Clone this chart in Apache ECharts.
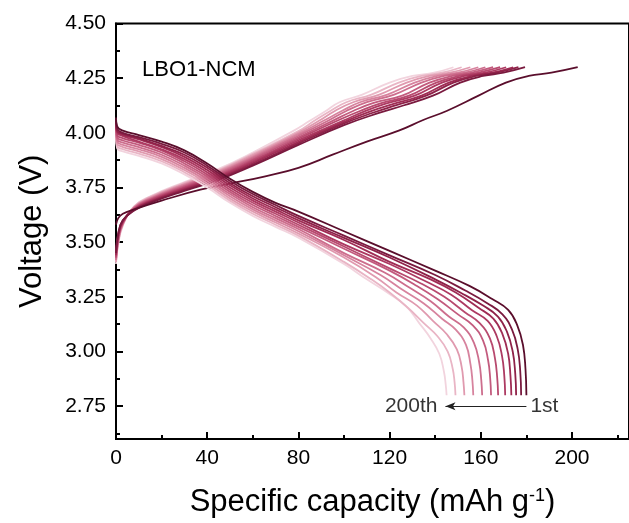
<!DOCTYPE html>
<html>
<head>
<meta charset="utf-8">
<script src="https://cdn.jsdelivr.net/npm/echarts@6/dist/echarts.min.js"></script>
<style>
  html, body { margin: 0; padding: 0; background: #fff; }
  #chart { width: 629px; height: 523px; }
</style>
</head>
<body>
<div id="chart"></div>
<script>
// Charge/discharge profiles of the LBO1-NCM cell, [capacity mAh/g, voltage V]
const cycleNames = ['1st', '20th', '40th', '60th', '75th', '90th', '105th', '120th', '140th', '160th', '180th', '200th'];

const lineColors = ['#5a0e2c', '#7a1a3f', '#8f2249', '#a02d55', '#ad3a62', '#b84a6f',
                    '#c35b7e', '#cd6e8d', '#d7839e', '#e09aaf', '#e9b5c5', '#f2d4de'];

// charge branches
const charge00 = [[0,3.58],[1,3.61],[3,3.63],[8,3.65],[20,3.69],[37,3.74],[51,3.77],[65,3.80],[80,3.84],[95,3.90],[110,3.96],[124,4.01],[135,4.06],[145,4.10],[159,4.17],[171,4.23],[181,4.26],[191,4.275],[202.5,4.30]];
const charge01 = [[0,3.45],[1,3.54],[3,3.60],[8,3.645],[15,3.68],[30,3.735],[45,3.785],[60,3.85],[80,3.945],[100,4.035],[115,4.09],[126,4.125],[139,4.17],[151,4.23],[161,4.26],[170,4.275],[179.4,4.30]];
const charge02 = [[0,3.45],[1,3.54],[3,3.60],[8,3.647],[15,3.683],[30,3.739],[45,3.79],[60,3.856],[80,3.952],[100,4.043],[113,4.093],[123,4.127],[136,4.17],[148,4.23],[158,4.26],[167,4.275],[176.5,4.30]];
const charge03 = [[0,3.44],[1,3.53],[3,3.595],[8,3.649],[15,3.686],[30,3.743],[45,3.795],[60,3.862],[80,3.959],[100,4.05],[111,4.096],[121,4.13],[134,4.17],[146,4.23],[156,4.26],[165,4.275],[174.2,4.30]];
const charge04 = [[0,3.44],[1,3.53],[3,3.595],[8,3.651],[15,3.689],[30,3.747],[45,3.80],[60,3.868],[80,3.966],[100,4.057],[109,4.098],[118,4.132],[131,4.17],[143,4.23],[153,4.26],[162,4.275],[171.1,4.30]];
const charge05 = [[0,3.43],[1,3.52],[3,3.59],[8,3.653],[15,3.692],[30,3.751],[45,3.805],[60,3.874],[80,3.973],[98,4.06],[107,4.10],[116,4.135],[128.5,4.17],[140.5,4.23],[150.5,4.26],[159,4.275],[168.5,4.30]];
const charge06 = [[0,3.43],[1,3.52],[3,3.59],[8,3.655],[15,3.695],[30,3.755],[45,3.81],[60,3.88],[80,3.98],[95,4.055],[104,4.10],[113,4.137],[125.5,4.17],[137.5,4.23],[147.5,4.26],[156,4.275],[165.4,4.30]];
const charge07 = [[0,3.42],[1,3.51],[3,3.585],[8,3.657],[15,3.698],[30,3.759],[45,3.815],[60,3.886],[80,3.987],[93,4.055],[101,4.10],[110,4.14],[122,4.175],[134,4.23],[144,4.26],[153,4.275],[162,4.30]];
const charge08 = [[0,3.42],[1,3.51],[3,3.585],[8,3.659],[15,3.701],[30,3.763],[45,3.82],[60,3.892],[80,3.994],[91,4.055],[99,4.10],[107,4.14],[119,4.175],[131,4.23],[141,4.26],[150,4.275],[158.9,4.30]];
const charge09 = [[0,3.41],[1,3.50],[3,3.58],[8,3.661],[15,3.704],[30,3.767],[45,3.825],[60,3.898],[80,4.001],[89,4.055],[96,4.10],[104,4.14],[115.5,4.175],[127.5,4.23],[137.5,4.26],[146.5,4.275],[155.4,4.30]];
const charge10 = [[0,3.41],[1,3.50],[3,3.58],[8,3.663],[15,3.707],[30,3.771],[45,3.83],[60,3.904],[80,4.008],[87,4.055],[94,4.10],[101,4.14],[112,4.175],[124,4.23],[134,4.26],[143,4.275],[151.6,4.30]];
const charge11 = [[0,3.40],[1,3.49],[3,3.575],[8,3.665],[15,3.71],[30,3.775],[45,3.835],[60,3.91],[78,4.01],[85,4.055],[92,4.10],[98,4.14],[108,4.175],[120,4.23],[130,4.26],[139.5,4.275],[148,4.30]];

// discharge branches
const discharge00 = [[0,4.07],[0.5,4.03],[3,4.01],[10,3.99],[20,3.96],[30,3.92],[40,3.86],[50,3.79],[60,3.73],[70,3.68],[80,3.64],[100,3.55],[120,3.46],[140,3.37],[155,3.30],[165,3.24],[172,3.19],[176,3.12],[178.5,3.03],[179.6,2.92],[180,2.80]];
const discharge01 = [[0,4.06],[0.5,4.02],[3,4.00],[10,3.98],[20,3.95],[30,3.91],[40,3.85],[50,3.78],[60,3.72],[70,3.67],[80,3.62],[100,3.53],[120,3.44],[140,3.35],[153,3.28],[163,3.22],[169.5,3.17],[173.7,3.10],[176.2,3.01],[177.3,2.91],[177.7,2.80]];
const discharge02 = [[0,4.05],[0.5,4.01],[3,3.995],[10,3.975],[20,3.94],[30,3.90],[40,3.84],[50,3.77],[60,3.71],[70,3.66],[80,3.61],[100,3.52],[120,3.43],[140,3.33],[151,3.27],[161,3.21],[167.5,3.16],[171.5,3.09],[174,3.00],[175.1,2.90],[175.5,2.80]];
const discharge03 = [[0,4.05],[0.5,4.005],[3,3.99],[10,3.97],[20,3.935],[30,3.89],[40,3.83],[50,3.76],[60,3.70],[70,3.65],[80,3.60],[100,3.51],[120,3.41],[138,3.33],[149,3.27],[159,3.20],[165.5,3.15],[169.5,3.08],[172,2.99],[173,2.89],[173.4,2.80]];
const discharge04 = [[0,4.04],[0.5,4.00],[3,3.985],[10,3.96],[20,3.925],[30,3.88],[40,3.82],[50,3.75],[60,3.69],[70,3.64],[80,3.59],[100,3.49],[120,3.40],[136,3.32],[147,3.26],[156,3.19],[163,3.14],[167,3.07],[169.3,2.98],[170.3,2.89],[170.7,2.80]];
const discharge05 = [[0,4.04],[0.5,3.99],[3,3.975],[10,3.955],[20,3.92],[30,3.87],[40,3.81],[50,3.74],[60,3.68],[70,3.63],[80,3.58],[100,3.48],[120,3.38],[134,3.31],[144,3.25],[153,3.18],[159.5,3.13],[164,3.06],[166.2,2.97],[167.2,2.88],[167.6,2.80]];
const discharge06 = [[0,4.03],[0.5,3.98],[3,3.965],[10,3.945],[20,3.91],[30,3.86],[40,3.80],[50,3.73],[60,3.67],[70,3.62],[80,3.57],[100,3.47],[120,3.37],[132,3.30],[141,3.24],[150,3.17],[156.5,3.12],[161,3.05],[163.2,2.96],[164.1,2.88],[164.5,2.80]];
const discharge07 = [[0,4.02],[0.5,3.97],[3,3.955],[10,3.935],[20,3.90],[30,3.85],[40,3.79],[50,3.72],[60,3.66],[70,3.61],[80,3.56],[100,3.45],[118,3.36],[129,3.29],[138,3.23],[146,3.16],[152.5,3.11],[157,3.04],[159.3,2.95],[160.2,2.87],[160.6,2.80]];
const discharge08 = [[0,4.01],[0.5,3.96],[3,3.945],[10,3.925],[20,3.89],[30,3.84],[40,3.78],[50,3.71],[60,3.65],[70,3.60],[80,3.55],[100,3.44],[116,3.35],[126,3.28],[135,3.22],[143,3.15],[149,3.10],[153.5,3.03],[155.5,2.94],[156.3,2.87],[156.7,2.80]];
const discharge09 = [[0,4.00],[0.5,3.95],[3,3.935],[10,3.915],[20,3.88],[30,3.83],[40,3.77],[50,3.70],[60,3.64],[70,3.59],[80,3.54],[100,3.43],[114,3.34],[123,3.27],[132,3.21],[139,3.14],[145,3.08],[149.5,3.01],[151.6,2.93],[152.4,2.86],[152.8,2.80]];
const discharge10 = [[0,3.99],[0.5,3.94],[3,3.925],[10,3.905],[20,3.87],[30,3.82],[40,3.76],[50,3.69],[60,3.63],[70,3.58],[80,3.53],[100,3.41],[112,3.33],[120,3.27],[128,3.20],[135,3.13],[141,3.07],[145.5,3.00],[147.7,2.92],[148.5,2.86],[148.9,2.80]];
const discharge11 = [[0,3.98],[0.5,3.93],[3,3.915],[10,3.895],[20,3.86],[30,3.81],[40,3.75],[50,3.68],[60,3.62],[70,3.57],[80,3.52],[100,3.40],[110,3.33],[119,3.27],[127,3.21],[133,3.13],[138,3.06],[141.8,2.99],[143.8,2.91],[144.6,2.85],[145,2.80]];

const chargeCurves = [charge00, charge01, charge02, charge03, charge04, charge05, charge06, charge07, charge08, charge09, charge10, charge11];
const dischargeCurves = [discharge00, discharge01, discharge02, discharge03, discharge04, discharge05, discharge06, discharge07, discharge08, discharge09, discharge10, discharge11];

// axis ticks
const xMajorTicks = [0, 40, 80, 120, 160, 200];
const xMinorTicks = [20, 60, 100, 140, 180, 220];
const yMajorTicks = [2.75, 3.00, 3.25, 3.50, 3.75, 4.00, 4.25, 4.50];
const yMinorTicks = [2.625, 2.875, 3.125, 3.375, 3.625, 3.875, 4.125, 4.375];

// cycle-direction arrow
const arrowStart = [180, 2.75];
const arrowEnd = [144.5, 2.75];
const arrowLabels = ['1st', '200th'];

const FONT = 'Liberation Sans, Arial, sans-serif';
const chart = echarts.init(document.getElementById('chart'), null, { renderer: 'canvas' });

const series = [];
// lightest cycles first so early cycles sit on top
for (let i = cycleNames.length - 1; i >= 0; i--) {
  series.push({
    name: 'charge ' + cycleNames[i], type: 'line', data: chargeCurves[i],
    showSymbol: false, smooth: 0.45,
    lineStyle: { color: lineColors[i], width: 1.8 }, silent: true, z: 2
  });
}
for (let i = cycleNames.length - 1; i >= 0; i--) {
  series.push({
    name: 'discharge ' + cycleNames[i], type: 'line', data: dischargeCurves[i],
    showSymbol: false, smooth: 0.45,
    lineStyle: { color: lineColors[i], width: 1.8 }, silent: true, z: 3
  });
}
series.push({
  name: 'arrow', type: 'scatter', symbolSize: 0, silent: true, z: 5,
  data: [
    { value: arrowEnd, label: { show: true, position: 'left', distance: 8, formatter: arrowLabels[1] } },
    { value: arrowStart, label: { show: true, position: 'right', distance: 4, formatter: arrowLabels[0] } }
  ],
  label: { color: '#000', fontSize: 21, fontFamily: FONT },
  markLine: {
    silent: true, symbol: ['none', 'arrow'], symbolSize: [6, 10],
    lineStyle: { color: '#222', width: 1, type: 'solid' },
    itemStyle: { color: '#000' },
    label: { show: false },
    data: [[{ coord: arrowStart }, { coord: arrowEnd }]]
  }
});

const axisLabelStyle = { color: '#000', fontSize: 21, fontFamily: FONT };

chart.setOption({
  animation: false,
  backgroundColor: '#fff',
  grid: { left: 116, top: 23.5, width: 516, height: 416, show: true, borderColor: '#000', borderWidth: 2, backgroundColor: 'transparent' },
  graphic: [{
    type: 'text', left: 142, top: 59,
    style: { text: 'LBO1-NCM', fill: '#000', font: '22px ' + FONT }
  }],
  xAxis: [{
    type: 'value', min: 0, max: 225, position: 'bottom',
    splitLine: { show: false },
    axisLine: { show: true, onZero: false, lineStyle: { color: '#000', width: 2 } },
    axisTick: { show: true, inside: true, length: 7, customValues: xMajorTicks, lineStyle: { color: '#000', width: 2 } },
    axisLabel: { customValues: xMajorTicks, margin: 9, ...axisLabelStyle },
    name: 'Specific capacity (mAh g{sup|-1})', nameLocation: 'middle', nameGap: 48,
    nameTextStyle: { color: '#000', fontSize: 31, fontFamily: FONT, rich: { sup: { fontSize: 18, verticalAlign: 'top', lineHeight: 16, fontFamily: FONT, color: '#000' } } }
  }, {
    type: 'value', min: 0, max: 225, position: 'bottom',
    splitLine: { show: false }, axisLine: { show: false },
    axisTick: { show: true, inside: true, length: 4, customValues: xMinorTicks, lineStyle: { color: '#000', width: 2 } },
    axisLabel: { show: false }
  }],
  yAxis: [{
    type: 'value', min: 2.6, max: 4.5, position: 'left',
    splitLine: { show: false },
    axisLine: { show: true, onZero: false, lineStyle: { color: '#000', width: 2 } },
    axisTick: { show: true, inside: true, length: 7, customValues: yMajorTicks, lineStyle: { color: '#000', width: 2 } },
    axisLabel: { customValues: yMajorTicks, margin: 10, formatter: v => v.toFixed(2), ...axisLabelStyle },
    name: 'Voltage (V)', nameLocation: 'middle', nameGap: 68,
    nameTextStyle: { color: '#000', fontSize: 31, fontFamily: FONT }
  }, {
    type: 'value', min: 2.6, max: 4.5, position: 'left',
    splitLine: { show: false }, axisLine: { show: false },
    axisTick: { show: true, inside: true, length: 4, customValues: yMinorTicks, lineStyle: { color: '#000', width: 2 } },
    axisLabel: { show: false }
  }],
  series: series
});
</script>
</body>
</html>
